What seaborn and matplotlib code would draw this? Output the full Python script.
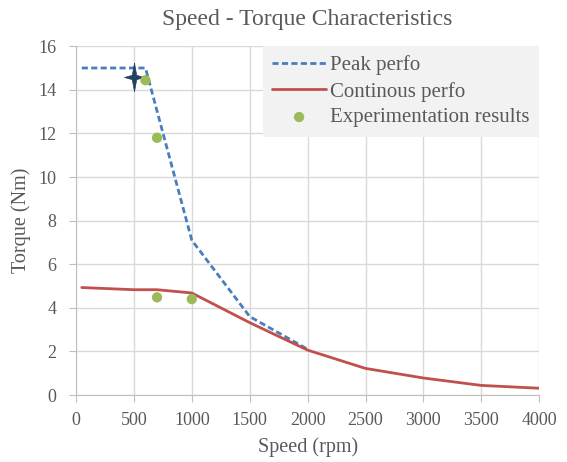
import matplotlib.pyplot as plt
import seaborn as sns

# data
peak_speed = [50, 600, 1000, 1500, 2000]
peak_torque = [15.0, 15.0, 7.1, 3.6, 2.1]

cont_speed = [50, 500, 700, 1000, 1500, 2000, 2500, 3000, 3500, 4000]
cont_torque = [4.93, 4.83, 4.83, 4.68, 3.32, 2.06, 1.22, 0.78, 0.44, 0.31]

exp_speed = [600, 700, 700, 1000]
exp_torque = [14.44, 11.8, 4.48, 4.4]

star_speed = [500]
star_torque = [14.6]

# slim four pointed star marker
star_shape = [(0, 1.3), (0.2, 0.2), (0.9, 0), (0.2, -0.2), (0, -1.3),
              (-0.2, -0.2), (-0.9, 0), (-0.2, 0.2), (0, 1.3)]


def plot():
    sns.set_style("whitegrid")
    plt.rcParams['font.family'] = ['Liberation Serif', 'DejaVu Serif']

    fig, ax = plt.subplots(figsize=(5.67, 4.62), dpi=100)
    fig.subplots_adjust(left=0.134, right=0.951, top=0.900, bottom=0.145)

    sns.lineplot(ax=ax, x=peak_speed, y=peak_torque, color="#4a7ebb", linewidth=2,
                 linestyle=(0, (2.2, 1.2)), label="Peak perfo")
    sns.lineplot(ax=ax, x=cont_speed, y=cont_torque, color="#c0504d", linewidth=2,
                 label="Continous perfo")
    sns.scatterplot(ax=ax, x=star_speed, y=star_torque, marker=star_shape, s=420,
                    color="#254061", edgecolor="#254061", linewidth=0.5, zorder=4)
    sns.scatterplot(ax=ax, x=exp_speed, y=exp_torque, color="#9bbb59", s=55,
                    edgecolor="none", label="Experimentation results", zorder=5)

    ax.set_xlim(0, 4000)
    ax.set_ylim(0, 16)
    ax.set_xticks(range(0, 4001, 500))
    ax.set_yticks(range(0, 17, 2))
    ax.grid(color="#d9d9d9", linewidth=1)
    for s in ["top", "right"]:
        ax.spines[s].set_visible(False)
    for s in ["left", "bottom"]:
        ax.spines[s].set_color("#bfbfbf")
    ax.tick_params(axis="both", colors="#595959", labelsize=13, length=5,
                   direction="out", bottom=True, left=True)
    ax.tick_params(axis="both", color="#bfbfbf")
    ax.tick_params(axis="y", pad=9)
    ax.tick_params(axis="x", pad=7)

    ax.set_xlabel("Speed (rpm)", fontsize=14.5, color="#595959", labelpad=6)
    ax.set_ylabel("Torque (Nm)", fontsize=14.5, color="#595959", labelpad=5)
    ax.set_title("Speed - Torque Characteristics", fontsize=17, color="#595959", pad=15)

    leg = ax.legend(loc="upper right", bbox_to_anchor=(1.0, 1.0), fontsize=15,
                    frameon=True, fancybox=False, borderaxespad=0, handlelength=2.6,
                    handletextpad=0.2, labelspacing=0.3, borderpad=0.45)
    leg.get_frame().set_facecolor("#f2f2f2")
    leg.get_frame().set_edgecolor("none")
    leg.get_frame().set_alpha(1)
    for t in leg.get_texts():
        t.set_color("#595959")

    plt.savefig("out.png")


if __name__ == '__main__':
    plot()
